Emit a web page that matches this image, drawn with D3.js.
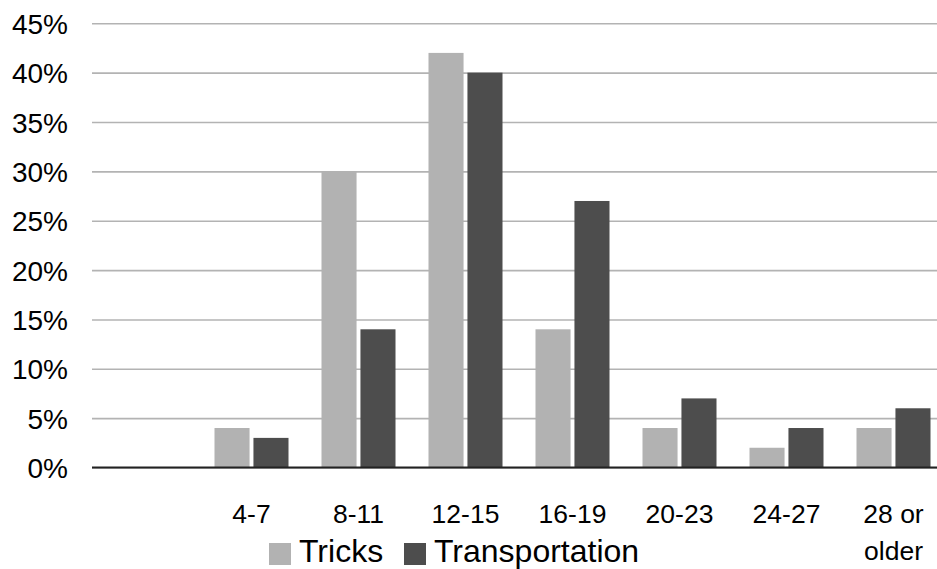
<!DOCTYPE html>
<html>
<head>
<meta charset="utf-8">
<script src="https://cdn.jsdelivr.net/npm/d3@7"></script>
<style>
  body { margin: 0; background: #fff; }
  svg { display: block; font-family: "Liberation Sans", Arial, sans-serif; }
</style>
</head>
<body>
<div id="graph_container"></div>
<script>
var categories   = ["", "4-7", "8-11", "12-15", "16-19", "20-23", "24-27", "28 or older"];
var series       = ["Tricks", "Transportation"];
var tricks       = [0, 4, 30, 42, 14, 4, 2, 4];
var transport    = [0, 3, 14, 40, 27, 7, 4, 6];
var y_ticks      = [0, 5, 10, 15, 20, 25, 30, 35, 40, 45];
var colors       = ["#b2b2b2", "#4d4d4d"];

var width  = 937;
var height = 569;

var svg = d3.select("#graph_container").append("svg")
    .attr("width", width)
    .attr("height", height);

// categories are 107px apart, last one runs past the right edge like the original
var x = d3.scaleBand().domain(d3.range(categories.length)).range([91, 947]);
var x_inner = d3.scaleBand().domain(series).range([16.5, 90.5]).paddingInner(0.1);
var y = d3.scaleLinear().domain([0, 45]).range([467.5, 23.3]);

// gridlines + y labels
var y_axis = d3.axisLeft(y)
    .tickValues(y_ticks)
    .tickSize(-(width - 92))
    .tickPadding(24)
    .tickFormat(function(d) { return d + "%"; });

var gy = svg.append("g")
    .attr("transform", "translate(92,0)")
    .call(y_axis);

gy.select(".domain").remove();
gy.selectAll(".tick line")
    .attr("stroke", "#b3b3b3")
    .attr("stroke-width", 1.6);
gy.selectAll(".tick text")
    .attr("fill", "#000")
    .attr("font-size", 28)
    .attr("font-family", "Liberation Sans, Arial, sans-serif")
    .attr("dy", "0.36em");

// bars
var rows = categories.map(function(c, i) { return { i: i, values: [tricks[i], transport[i]] }; });

var groups = svg.selectAll("g.cat").data(rows).enter().append("g")
    .attr("class", "cat")
    .attr("transform", function(d) { return "translate(" + x(d.i) + ",0)"; });

groups.selectAll("rect").data(function(d) { return d.values; }).enter().append("rect")
    .attr("x", function(d, j) { return x_inner(series[j]); })
    .attr("y", function(d) { return y(d); })
    .attr("width", x_inner.bandwidth())
    .attr("height", function(d) { return y(0) - y(d); })
    .attr("fill", function(d, j) { return colors[j]; });

// zero line
svg.append("line")
    .attr("x1", 92).attr("x2", width)
    .attr("y1", y(0)).attr("y2", y(0))
    .attr("stroke", "#222")
    .attr("stroke-width", 1.8);

// x labels (wrapped)
var x_axis = d3.axisBottom(x)
    .tickSize(0)
    .tickPadding(0)
    .tickFormat(function(i) { return categories[i]; });

var gx = svg.append("g")
    .attr("transform", "translate(0," + y(0) + ")")
    .call(x_axis);

gx.select(".domain").remove();
gx.selectAll(".tick text")
    .attr("fill", "#000")
    .attr("font-size", 26.5)
    .attr("font-family", "Liberation Sans, Arial, sans-serif")
    .attr("y", 55.5)
    .attr("dy", 0)
    .each(function() { wrap(d3.select(this), 104); });

function wrap(text, w) {
    var words = text.text().split(" ");
    var line = [];
    var lines = [];
    text.text(null);
    var probe = text.append("tspan");
    words.forEach(function(word) {
        line.push(word);
        probe.text(line.join(" "));
        if (probe.node().getComputedTextLength() > w && line.length > 1) {
            line.pop();
            lines.push(line.join(" "));
            line = [word];
        }
    });
    lines.push(line.join(" "));
    probe.remove();
    lines.forEach(function(l, k) {
        text.append("tspan")
            .attr("x", 0)
            .attr("y", 55.5 + k * 37)
            .text(l);
    });
}

// legend (sits low like the original, nudged up so descenders stay on the page)
var legend_x = [269, 404];
var legend = svg.selectAll("g.legend").data(series).enter().append("g")
    .attr("class", "legend")
    .attr("transform", function(d, j) { return "translate(" + legend_x[j] + ",543)"; });

legend.append("rect")
    .attr("width", 22)
    .attr("height", 22)
    .attr("fill", function(d, j) { return colors[j]; });

legend.append("text")
    .attr("x", 30)
    .attr("y", 19)
    .attr("font-size", 32)
    .attr("fill", "#000")
    .text(function(d) { return d; });
</script>
</body>
</html>
